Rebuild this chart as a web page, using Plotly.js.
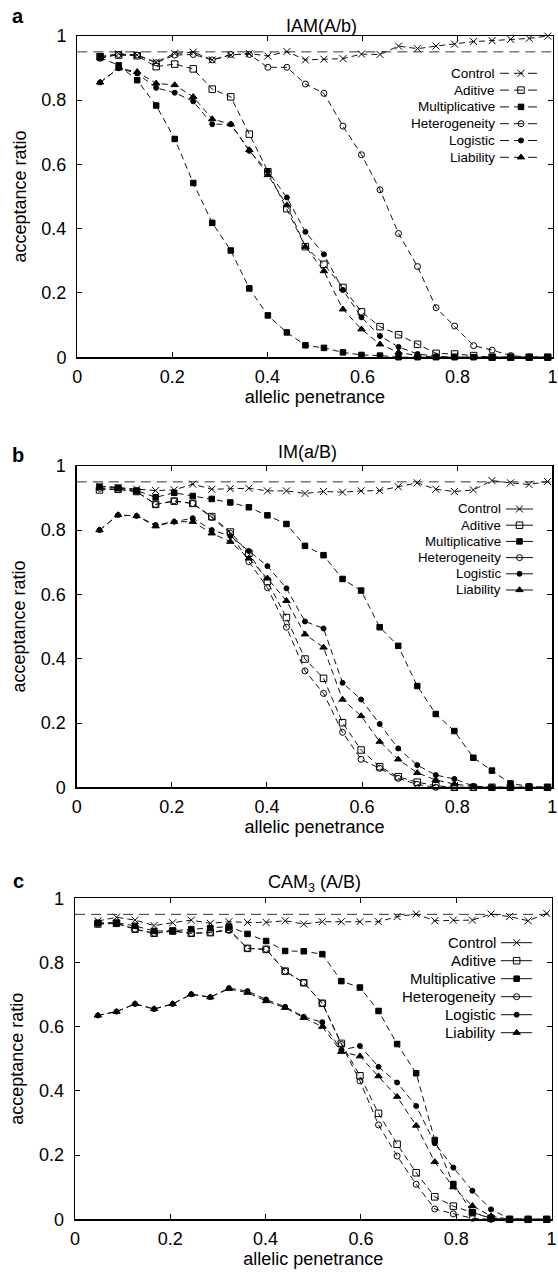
<!DOCTYPE html>
<html>
<head>
<meta charset="utf-8">
<script src="https://cdn.plot.ly/plotly-3.0.1.min.js"></script>
<style>html,body{margin:0;padding:0;background:#fff;}#chart{width:558px;height:1272px;}</style>
</head>
<body>
<div id="chart"></div>
<script>
// ---------------- data ----------------
const penetrance = [0.048, 0.087, 0.126, 0.166, 0.205, 0.244, 0.284, 0.323, 0.362, 0.401, 0.441, 0.480, 0.519,
                    0.559, 0.598, 0.637, 0.676, 0.716, 0.755, 0.794, 0.834, 0.873, 0.912, 0.951, 0.990];
const seriesNames = ['Control', 'Aditive', 'Multiplicative', 'Heterogeneity', 'Logistic', 'Liability'];
const panelTitles = ['IAM(A/b)', 'IM(a/B)', 'CAM<sub>3</sub> (A/B)'];
const panelLetters = ['a', 'b', 'c'];
const xTickVals = [0, 0.2, 0.4, 0.6, 0.8, 1];
const xTickText = ['0', '0.2', '0.4', '0.6', '0.8', '1'];
const yTickVals = [0, 0.2, 0.4, 0.6, 0.8, 1];
const yTickText = ['0', '0.2', '0.4', '0.6', '0.8', '1'];
const threshold = 0.95;

// panel a : IAM(A/b)
const iamControl        = [0.935,0.944,0.940,0.918,0.945,0.949,0.925,0.940,0.945,0.937,0.951,0.925,0.927,0.929,0.943,0.942,0.968,0.960,0.968,0.974,0.982,0.985,0.989,0.992,0.999];
const iamAditive        = [0.935,0.940,0.938,0.904,0.912,0.897,0.834,0.810,0.694,0.577,0.462,0.344,0.289,0.217,0.141,0.095,0.070,0.040,0.012,0.010,0.005,0,0,0,0];
const iamMultiplicative = [0.933,0.908,0.862,0.783,0.679,0.542,0.418,0.332,0.214,0.130,0.077,0.037,0.029,0.015,0.007,0.005,0,0,0,0,0,0,0,0,0];
const iamHeterogeneity  = [0.930,0.942,0.940,0.916,0.940,0.942,0.925,0.942,0.942,0.902,0.902,0.850,0.821,0.719,0.630,0.521,0.385,0.282,0.154,0.097,0.036,0.022,0.005,0,0];
const iamLogistic       = [0.855,0.899,0.883,0.838,0.823,0.796,0.725,0.725,0.642,0.579,0.497,0.390,0.320,0.209,0.124,0.066,0.032,0.010,0.003,0,0,0,0,0,0];
const iamLiability      = [0.855,0.899,0.888,0.852,0.847,0.810,0.741,0.725,0.645,0.567,0.473,0.344,0.268,0.149,0.087,0.040,0.015,0.005,0,0,0,0,0,0,0];

// panel b : IM(a/B)
const imControl         = [0.937,0.932,0.927,0.923,0.925,0.943,0.927,0.929,0.930,0.922,0.922,0.914,0.920,0.918,0.922,0.923,0.935,0.947,0.927,0.920,0.925,0.954,0.947,0.942,0.951];
const imAditive         = [0.925,0.927,0.920,0.880,0.890,0.883,0.842,0.794,0.728,0.640,0.528,0.399,0.339,0.201,0.116,0.064,0.033,0.016,0.005,0,0,0,0,0,0];
const imMultiplicative  = [0.935,0.932,0.923,0.902,0.916,0.906,0.897,0.886,0.871,0.846,0.819,0.751,0.722,0.648,0.612,0.498,0.440,0.315,0.228,0.175,0.092,0.052,0.012,0.003,0];
const imHeterogeneity   = [0.930,0.927,0.920,0.880,0.891,0.883,0.839,0.790,0.702,0.621,0.498,0.362,0.292,0.171,0.087,0.059,0.028,0.009,0,0,0,0,0,0,0];
const imLogistic        = [0.800,0.847,0.844,0.816,0.826,0.837,0.800,0.782,0.735,0.688,0.619,0.516,0.494,0.325,0.273,0.197,0.121,0.069,0.038,0.026,0.004,0,0,0,0];
const imLiability       = [0.800,0.847,0.844,0.812,0.826,0.826,0.790,0.764,0.712,0.650,0.580,0.476,0.435,0.273,0.222,0.142,0.087,0.045,0.023,0.010,0.003,0,0,0,0];

// panel c : CAM3(A/B)
const camControl        = [0.929,0.941,0.932,0.915,0.924,0.932,0.922,0.927,0.925,0.925,0.930,0.920,0.927,0.927,0.927,0.927,0.943,0.951,0.930,0.932,0.932,0.951,0.943,0.930,0.953];
const camAditive        = [0.920,0.922,0.904,0.891,0.898,0.891,0.893,0.904,0.844,0.841,0.773,0.737,0.673,0.548,0.447,0.330,0.234,0.145,0.070,0.041,0.021,0.003,0,0,0];
const camMultiplicative = [0.924,0.924,0.914,0.898,0.899,0.904,0.907,0.912,0.889,0.867,0.836,0.835,0.826,0.742,0.722,0.649,0.546,0.455,0.247,0.110,0.022,0.003,0,0,0];
const camHeterogeneity  = [0.920,0.922,0.904,0.891,0.898,0.891,0.893,0.900,0.844,0.841,0.773,0.737,0.673,0.545,0.431,0.294,0.197,0.109,0.032,0.017,0.003,0,0,0,0];
const camLogistic       = [0.635,0.647,0.671,0.655,0.671,0.701,0.692,0.720,0.711,0.685,0.662,0.631,0.614,0.527,0.540,0.475,0.426,0.353,0.237,0.161,0.089,0.031,0.002,0,0];
const camLiability      = [0.635,0.647,0.671,0.655,0.671,0.701,0.692,0.718,0.706,0.680,0.659,0.628,0.600,0.522,0.508,0.446,0.382,0.292,0.179,0.100,0.042,0.010,0,0,0];

// ---------------- layout geometry (pixels) ----------------
const W = 558, H = 1272;
const fx = px => px / W;
const fy = py => 1 - py / H;
const FONT = 'Liberation Sans, Arial, Helvetica, sans-serif';

const panels = [
  { series: [iamControl, iamAditive, iamMultiplicative, iamHeterogeneity, iamLogistic, iamLiability],
    left: 77.3, right: 552.5, top: 35.8, bottom: 357.2, titleX: 321, titleY: 26, letterY: 16,
    leg: { x0: 500, x1: 542, row1: 73.3, step: 16.8, font: 13.5, dash: '9px,5px' } },
  { series: [imControl, imAditive, imMultiplicative, imHeterogeneity, imLogistic, imLiability],
    left: 76.7, right: 552.3, top: 465.8, bottom: 787.3, titleX: 307.5, titleY: 452, letterY: 455,
    leg: { x0: 506, x1: 533, row1: 509, step: 16.2, font: 13.3, dash: 'solid' } },
  { series: [camControl, camAditive, camMultiplicative, camHeterogeneity, camLogistic, camLiability],
    left: 75.0, right: 551.5, top: 898.3, bottom: 1219.3, titleX: 314, titleY: 883, letterY: 881,
    leg: { x0: 501, x1: 532.3, row1: 942.7, step: 18, font: 15, dash: 'solid' } }
];

const markerStyles = [
  { symbol: 'x-thin', size: 7 },
  { symbol: 'square-open', size: 6.5 },
  { symbol: 'square', size: 5.5 },
  { symbol: 'circle-open', size: 6 },
  { symbol: 'circle', size: 5 },
  { symbol: 'triangle-up', size: 6.5 }
];

const data = [];
const layout = {
  width: W, height: H,
  margin: { l: 0, r: 0, t: 0, b: 0, pad: 0 },
  paper_bgcolor: '#fff', plot_bgcolor: '#fff',
  showlegend: false,
  font: { family: FONT, color: '#000', size: 18 },
  annotations: [], shapes: []
};

panels.forEach((p, k) => {
  const n = k + 1;
  const xa = n === 1 ? 'x' : 'x' + n, ya = n === 1 ? 'y' : 'y' + n;
  const xKey = n === 1 ? 'xaxis' : 'xaxis' + n, yKey = n === 1 ? 'yaxis' : 'yaxis' + n;
  const axCommon = {
    showgrid: false, zeroline: false, showline: true, linecolor: '#000', linewidth: 1.3,
    mirror: 'ticks', ticks: 'inside', ticklen: 5, tickwidth: 1, tickcolor: '#000',
    tickfont: { family: FONT, size: 18, color: '#000' }, fixedrange: true
  };
  layout[xKey] = Object.assign({}, axCommon, {
    domain: [fx(p.left), fx(p.right)], range: [0, 1], anchor: ya,
    tickmode: 'array', tickvals: xTickVals, ticktext: xTickText, ticklabelstandoff: 3,
    title: { text: 'allelic penetrance', font: { family: FONT, size: 18, color: '#000' }, standoff: 4 }
  });
  layout[yKey] = Object.assign({}, axCommon, {
    domain: [fy(p.bottom), fy(p.top)], range: [0, 1], anchor: xa,
    tickmode: 'array', tickvals: yTickVals, ticktext: yTickText, ticklabelstandoff: 6,
    title: { text: 'acceptance ratio', font: { family: FONT, size: 18, color: '#000' }, standoff: 10 }
  });

  // 0.95 reference line
  layout.shapes.push({
    type: 'line', xref: xa + ' domain', yref: ya, x0: 0, x1: 1, y0: threshold, y1: threshold,
    line: { color: '#333', width: 1, dash: '10px,6px' }, layer: 'below'
  });

  // data series
  p.series.forEach((vals, s) => {
    const ms = markerStyles[s];
    data.push({
      type: 'scatter', mode: 'lines+markers', name: seriesNames[s],
      x: penetrance, y: vals, xaxis: xa, yaxis: ya, cliponaxis: false,
      line: { color: '#111', width: 1, dash: '6px,4px' },
      marker: { symbol: ms.symbol, size: ms.size, color: '#000', line: { color: '#000', width: 1 } },
      hoverinfo: 'x+y+name'
    });
  });

  // panel title & letter
  layout.annotations.push({
    text: panelTitles[k], xref: 'paper', yref: 'paper', x: fx(p.titleX), y: fy(p.titleY),
    xanchor: 'center', yanchor: 'middle', showarrow: false, font: { family: FONT, size: 18, color: '#000' }
  });
  layout.annotations.push({
    text: '<b>' + panelLetters[k] + '</b>', xref: 'paper', yref: 'paper', x: fx(18), y: fy(p.letterY),
    xanchor: 'center', yanchor: 'middle', showarrow: false, font: { family: FONT, size: 20, color: '#000' }
  });

  // legend (drawn on its own hidden axes)
  const L = p.leg;
  const ln = n + 3;
  const lxa = 'x' + ln, lya = 'y' + ln;
  layout['xaxis' + ln] = { domain: [fx(L.x0), fx(L.x1)], range: [0, 1], anchor: lya, visible: false, fixedrange: true };
  layout['yaxis' + ln] = { domain: [fy(L.row1 + 5.5 * L.step), fy(L.row1 - 0.5 * L.step)], range: [6.5, 0.5], anchor: lxa, visible: false, fixedrange: true };
  seriesNames.forEach((nm, s) => {
    const ms = markerStyles[s];
    const row = s + 1;
    data.push({
      type: 'scatter', mode: 'lines', x: [0, 1], y: [row, row], xaxis: lxa, yaxis: lya,
      line: { color: '#111', width: 1, dash: L.dash }, hoverinfo: 'skip', cliponaxis: false
    });
    data.push({
      type: 'scatter', mode: 'markers', x: [0.5], y: [row], xaxis: lxa, yaxis: lya,
      marker: { symbol: ms.symbol, size: ms.size, color: '#000', line: { color: '#000', width: 1 } },
      hoverinfo: 'skip', cliponaxis: false
    });
    layout.annotations.push({
      text: nm, xref: lxa, yref: lya, x: 0, y: row, xanchor: 'right', yanchor: 'middle', xshift: -3,
      showarrow: false, font: { family: FONT, size: L.font, color: '#000' }
    });
  });
});

Plotly.newPlot('chart', data, layout, { staticPlot: true, displayModeBar: false });
</script>
</body>
</html>
